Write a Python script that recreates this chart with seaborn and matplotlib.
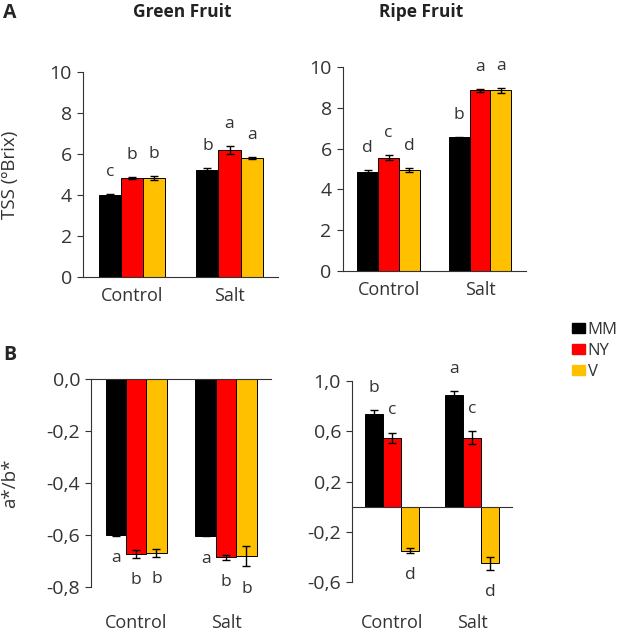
import seaborn as sns
import pandas as pd
import matplotlib.pyplot as plt
from matplotlib.ticker import FuncFormatter
from matplotlib.transforms import blended_transform_factory

# categories
groups = ["Control", "Salt"]
lines = ["MM", "NY", "V"]
colors = ["#000000", "#FF0000", "#FFC000"]

# values per line (MM, NY, V), each [Control, Salt]
green_tss = [[4.00, 5.20], [4.82, 6.20], [4.82, 5.80]]
green_tss_err = [[0.03, 0.12], [0.05, 0.18], [0.10, 0.04]]
green_tss_sig = [["c", "b"], ["b", "a"], ["b", "a"]]

ripe_tss = [[4.85, 6.55], [5.55, 8.85], [4.95, 8.85]]
ripe_tss_err = [[0.10, 0.03], [0.12, 0.08], [0.08, 0.10]]
ripe_tss_sig = [["d", "b"], ["c", "a"], ["d", "a"]]

green_ab = [[-0.600, -0.602], [-0.672, -0.685], [-0.668, -0.680]]
green_ab_err = [[0.003, 0.003], [0.015, 0.010], [0.015, 0.040]]
green_ab_sig = [["a", "a"], ["b", "b"], ["b", "b"]]

ripe_ab = [[0.74, 0.89], [0.55, 0.55], [-0.35, -0.45]]
ripe_ab_err = [[0.03, 0.03], [0.04, 0.05], [0.02, 0.05]]
ripe_ab_sig = [["b", "a"], ["c", "c"], ["d", "d"]]

sns.set_style("white")
plt.rcParams['font.family'] = ['Open Sans', 'DejaVu Sans']
plt.rcParams['axes.edgecolor'] = '#333333'
txt = "#333333"


def to_df(values):
    rows = []
    for i, line in enumerate(lines):
        for j, g in enumerate(groups):
            rows.append({"group": g, "line": line, "value": values[i][j]})
    return pd.DataFrame(rows)


def bar_panel(ax, values, errs, sigs):
    df = to_df(values)
    sns.barplot(data=df, x="group", y="value", hue="line", order=groups,
                hue_order=lines, palette=colors, saturation=1, width=0.68,
                errorbar=None, edgecolor="black", linewidth=0.7, ax=ax,
                legend=False)
    bars = list(ax.containers)
    for i, cont in enumerate(bars):
        xs = [b.get_x() + b.get_width() / 2 for b in cont]
        ax.errorbar(xs, values[i], yerr=errs[i], fmt="none", ecolor="black",
                    elinewidth=1, capsize=3, capthick=1)
        for x, v, e, s in zip(xs, values[i], errs[i], sigs[i]):
            tip = v + e if v >= 0 else v - e
            off = 16 if v >= 0 else -16
            ax.annotate(s, (x, tip), xytext=(0, off), textcoords="offset points",
                        ha="center", va="center", fontsize=12.5, color=txt)
    ax.set_xlim(-0.5, 1.5)
    ax.set_xlabel("")
    ax.set_ylabel("")
    sns.despine(ax=ax)
    ax.set_xticks([-0.5, 0.5, 1.5], minor=True)
    ax.tick_params(axis="x", which="minor", length=4, direction="out", color=txt)
    ax.tick_params(axis="y", length=4, direction="out", color=txt,
                   left=True, labelsize=14, pad=4)


fig = plt.figure(figsize=(6.2, 6.32), dpi=100)
ax1 = fig.add_axes([0.134, 0.562, 0.315, 0.324])
ax2 = fig.add_axes([0.553, 0.571, 0.295, 0.323])
ax3 = fig.add_axes([0.147, 0.071, 0.290, 0.329])
ax4 = fig.add_axes([0.568, 0.079, 0.258, 0.318])

# top row: TSS
for ax, vals, errs, sigs in [(ax1, green_tss, green_tss_err, green_tss_sig),
                             (ax2, ripe_tss, ripe_tss_err, ripe_tss_sig)]:
    bar_panel(ax, vals, errs, sigs)
    ax.set_ylim(0, 10)
    ax.set_yticks([0, 2, 4, 6, 8, 10])
    ax.set_xticks([0, 1])
    ax.set_xticklabels(groups)
    ax.tick_params(axis="x", which="major", length=0, labelsize=13, pad=7)

ax1.set_ylabel("TSS (ºBrix)", fontsize=13.5, color=txt)
ax1.yaxis.set_label_coords(-0.33, 0.5)

# bottom row: a*/b*
comma = FuncFormatter(lambda v, p: f"{v:.1f}".replace(".", ","))
bar_panel(ax3, green_ab, green_ab_err, green_ab_sig)
ax3.set_ylim(-0.8, 0)
ax3.set_yticks([0, -0.2, -0.4, -0.6, -0.8])
ax3.tick_params(axis="x", which="minor", direction="in")
bar_panel(ax4, ripe_ab, ripe_ab_err, ripe_ab_sig)
ax4.set_ylim(-0.6, 1.0)
ax4.set_yticks([1.0, 0.6, 0.2, -0.2, -0.6])
for ax, ly in [(ax3, -0.173), (ax4, -0.204)]:
    ax.yaxis.set_major_formatter(comma)
    ax.spines["bottom"].set_position(("data", 0))
    ax.set_xticks([0, 1])
    ax.set_xticklabels([])
    ax.tick_params(axis="x", which="major", length=0)
    tr = blended_transform_factory(ax.transData, ax.transAxes)
    for i, g in enumerate(groups):
        ax.text(i, ly, g, transform=tr, ha="center", va="center", fontsize=13,
                color=txt)

ax3.set_ylabel("a*/b*", fontsize=13.5, color=txt)
ax3.yaxis.set_label_coords(-0.40, 0.5)

for ax in [ax1, ax2, ax3, ax4]:
    for lbl in ax.get_yticklabels() + ax.get_xticklabels():
        lbl.set_color(txt)

# legend
handles = [plt.Rectangle((0, 0), 1, 1, color=c) for c in colors]
fig.legend(handles, lines, loc="upper left", bbox_to_anchor=(572 / 620, 1 - 322 / 632),
           frameon=False, fontsize=12, handlelength=0.8, handleheight=0.55,
           handletextpad=0.15, labelspacing=0.3, borderaxespad=0, borderpad=0,
           labelcolor=txt)

fig.text(182 / 620, 1 - 12 / 632, "Green Fruit", ha="center", va="center",
         fontsize=12.5, fontweight="bold", color="#222222")
fig.text(421 / 620, 1 - 12 / 632, "Ripe Fruit", ha="center", va="center",
         fontsize=12.5, fontweight="bold", color="#222222")
fig.text(10 / 620, 1 - 13 / 632, "A", ha="center", va="center", fontsize=14,
         fontweight="bold")
fig.text(10 / 620, 1 - 355 / 632, "B", ha="center", va="center", fontsize=14,
         fontweight="bold")

plt.savefig("out.png", dpi=100)
